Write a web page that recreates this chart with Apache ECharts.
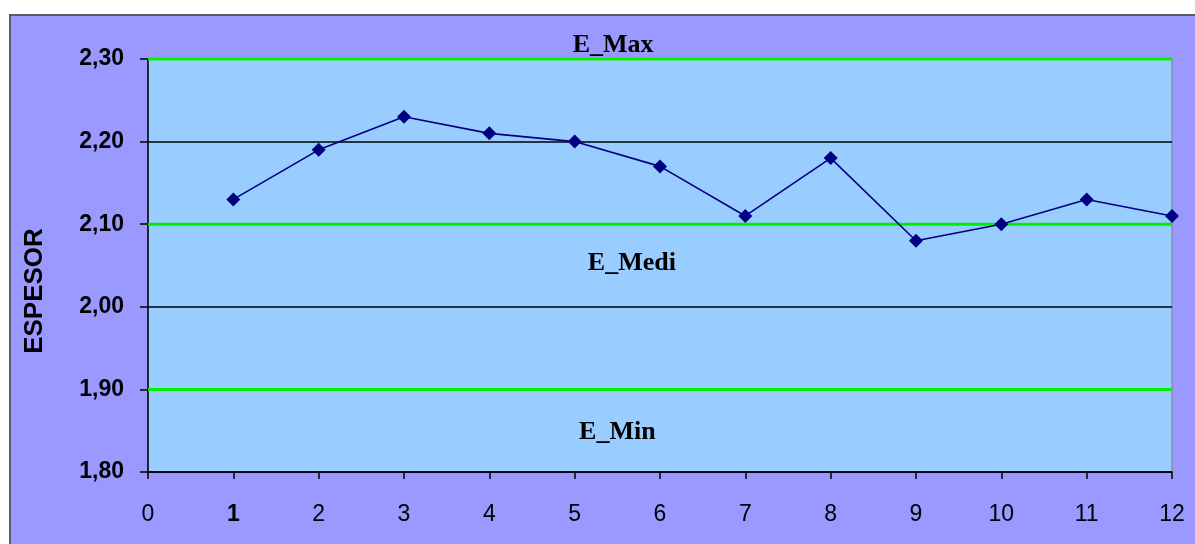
<!DOCTYPE html>
<html>
<head>
<meta charset="utf-8">
<script src="https://cdn.jsdelivr.net/npm/echarts@6/dist/echarts.min.js"></script>
<style>
  html, body { margin: 0; padding: 0; background: #ffffff; }
  #chart { width: 1195px; height: 544px; }
</style>
</head>
<body>
<div id="chart"></div>
<script>
// Sample numbers (x axis) and measured thickness per sample
const muestras = [1, 2, 3, 4, 5, 6, 7, 8, 9, 10, 11, 12];
const espesor = [2.13, 2.19, 2.23, 2.21, 2.20, 2.17, 2.11, 2.18, 2.08, 2.10, 2.13, 2.11];

// Control limits
const limiteNombres = ['E_Max', 'E_Medi', 'E_Min'];
const limiteValores = [2.30, 2.10, 1.90];

// Axis ranges and title
const xRango = [0, 12];
const yRango = [1.80, 2.30];
const yPaso = 0.10;
const yTitulo = 'ESPESOR';

const chart = echarts.init(document.getElementById('chart'), null, { renderer: 'canvas' });

const limiteSeries = limiteNombres.map((nombre, i) => ({
  name: nombre,
  type: 'line',
  data: [[xRango[0], limiteValores[i]], [xRango[1], limiteValores[i]]],
  symbol: 'none',
  silent: true,
  lineStyle: { color: '#00f000', width: 3 },
  z: 3
}));

chart.setOption({
  animation: false,
  backgroundColor: 'transparent',
  grid: {
    left: 148, right: 23, top: 59, bottom: 72,
    show: true,
    backgroundColor: '#99ccff',
    borderColor: '#808080',
    borderWidth: 1
  },
  xAxis: {
    type: 'value',
    min: xRango[0], max: xRango[1], interval: 1,
    axisLine: { show: true, lineStyle: { color: '#000', width: 1.5 } },
    axisTick: { show: true, inside: false, length: 7, lineStyle: { color: '#000', width: 1.5 } },
    splitLine: { show: false },
    axisLabel: {
      margin: 31,
      fontFamily: 'Liberation Sans, Arial, sans-serif',
      fontSize: 23,
      color: '#000',
      formatter: v => (v === 1 ? '{b|1}' : String(v)),
      rich: { b: { fontWeight: 'bold', fontSize: 23, fontFamily: 'Liberation Sans, Arial, sans-serif', color: '#000' } }
    }
  },
  yAxis: {
    type: 'value',
    min: yRango[0], max: yRango[1], interval: yPaso,
    axisLine: { show: true, lineStyle: { color: '#000', width: 1.5 } },
    axisTick: { show: true, inside: false, length: 8, lineStyle: { color: '#000', width: 1.5 } },
    splitLine: { show: true, lineStyle: { color: '#000', width: 1.5 } },
    axisLabel: {
      margin: 24,
      fontFamily: 'Liberation Sans, Arial, sans-serif',
      fontSize: 23, fontWeight: 'bold', color: '#000',
      formatter: v => v.toFixed(2).replace('.', ',')
    }
  },
  series: limiteSeries.concat([{
    name: 'Espesor',
    type: 'line',
    data: muestras.map((m, i) => [m, espesor[i]]),
    symbol: 'diamond',
    symbolSize: 14,
    itemStyle: { color: '#000080' },
    lineStyle: { color: '#000080', width: 1.6 },
    z: 4
  }])
});

// Outer chart frame, y-axis title and the limit captions
function dibujarDecoracion() {
  const etiquetaPos = [
    { x: 5.45, dy: -14 },
    { x: 5.67, dy: 39 },
    { x: 5.5, dy: 43 }
  ];
  const textos = limiteNombres.map((nombre, i) => {
    const p = chart.convertToPixel({ gridIndex: 0 }, [etiquetaPos[i].x, limiteValores[i]]);
    return {
      type: 'text',
      x: p[0], y: p[1] + etiquetaPos[i].dy,
      z: 10,
      style: {
        text: nombre,
        fontFamily: 'Liberation Serif, Times New Roman, serif',
        fontSize: 26, fontWeight: 'bold',
        fill: '#000',
        align: 'center', verticalAlign: 'middle'
      }
    };
  });
  const titulo = {
    type: 'text',
    x: 35, y: 291,
    rotation: Math.PI / 2,
    z: 10,
    style: {
      text: yTitulo,
      fontFamily: 'Liberation Sans, Arial, sans-serif',
      fontSize: 26, fontWeight: 'bold',
      fill: '#000',
      align: 'center', verticalAlign: 'middle'
    }
  };
  chart.setOption({
    graphic: [{
      type: 'rect',
      z: -10,
      silent: true,
      shape: { x: 10, y: 15, width: 1200, height: 540 },
      style: { fill: '#9999ff', stroke: '#5a5a6a', lineWidth: 2 }
    }, titulo].concat(textos)
  });
}
dibujarDecoracion();
</script>
</body>
</html>
